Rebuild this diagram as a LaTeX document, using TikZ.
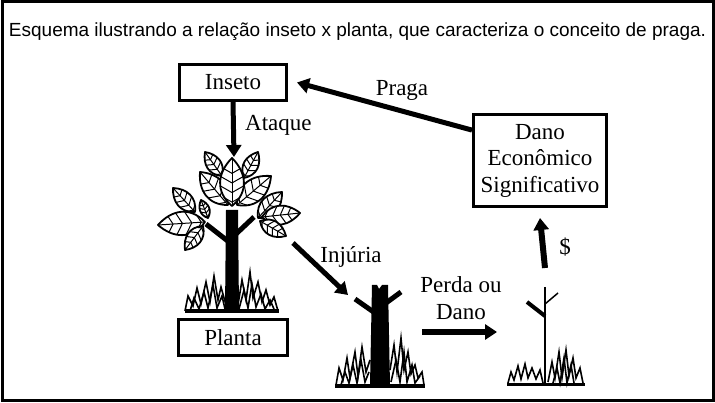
\documentclass[tikz,border=0pt]{standalone}
\usepackage{fontspec}
\setmainfont{Liberation Serif}
\newfontfamily\arialf{Liberation Sans}
\usetikzlibrary{arrows.meta,calc}
\tikzset{
  boxnode/.style={draw, line width=3pt, inner sep=0pt, align=center,
    font=\fontsize{23}{26.5}\selectfont},
  lbl/.style={inner sep=0pt, align=center, font=\fontsize{23}{26.5}\selectfont},
  bigarrow/.style={line width=5pt, -{Triangle[width=15pt,length=12pt]}},
  grassline/.style={line width=1.6pt, line join=miter, miter limit=20},
  leafpic/.pic={
    \path[fill=white] (0,0) .. controls (0.3,0.36) and (0.7,0.3) .. (1,0)
      .. controls (0.7,-0.3) and (0.3,-0.36) .. (0,0) -- cycle;
    \begin{scope}
      \clip (0,0) .. controls (0.3,0.36) and (0.7,0.3) .. (1,0)
        .. controls (0.7,-0.3) and (0.3,-0.36) .. (0,0) -- cycle;
      \foreach \t in {0.08,0.28,0.48,0.68}{
        \draw[line width=1pt] (\t,0) -- (\t+0.2,0.35);
        \draw[line width=1pt] (\t,0) -- (\t+0.2,-0.35);
      }
    \end{scope}
    \draw[line width=1pt] (0,0) -- (1,0);
    \draw[line width=1.8pt, line join=round] (0,0) .. controls (0.3,0.36) and (0.7,0.3) .. (1,0)
      .. controls (0.7,-0.3) and (0.3,-0.36) .. (0,0) -- cycle;
  }
}
\begin{document}
\begin{tikzpicture}[x=1pt,y=-1pt]
\useasboundingbox (0,0) rectangle (715,403);
\draw[line width=3pt] (2,2) rectangle (713,400);

% title
\node[inner sep=0pt, anchor=base, font=\arialf\fontsize{19}{22}\selectfont] (title) at (357.5,36.5)
  {Esquema ilustrando a relação inseto x planta, que caracteriza o conceito de praga.};

% boxes
\node[boxnode, minimum width=107pt, minimum height=36pt] (inseto) at (233,82.5) {Inseto};
\node[boxnode, minimum width=133pt, minimum height=92pt] (dano) at (540,160.5)
  {Dano\\Econômico\\Significativo};
\node[boxnode, minimum width=109pt, minimum height=36pt] (planta) at (233,337.5) {Planta};

% ---- tree 1 ----
\fill (226,210) -- (238,210) -- (239,311) -- (225,311) -- cycle;
\draw[line width=5pt] (229,242) -- (206,224);
\draw[line width=5pt] (236,234) -- (254,217);
\foreach \bx/\by/\tx/\ty in {
  195/212/173/188, 205/222/158/225, 208/218/201/200, 203/226/185/250,
  258/218/282/192, 262/217/300/213, 260/221/286/236,
  222/176/205/152, 244/178/258/152,
  228/205/200/172, 237/205/271/176, 232/206/232/158}{
  \pgfmathsetmacro\ang{atan2(\by-\ty,\tx-\bx)}
  \pgfmathsetmacro\len{veclen(\tx-\bx,\ty-\by)}
  \pic[shift={(\bx,\by)}, rotate=\ang, scale=\len] {leafpic};
}
\draw[grassline] (185,311) -- (188,296) -- (193,306) -- (197,288) -- (201,304) -- (206,282)
  -- (210,302) -- (214,276) -- (218,300) -- (221,287) -- (226,305);
\draw[grassline] (190,311) -- (194,298) -- (199,309) -- (204,292) -- (208,308) -- (213,285) -- (217,308) -- (222,296) -- (225,309);
\draw[grassline] (238,305) -- (242,280) -- (246,300) -- (250,272) -- (253,298) -- (258,282)
  -- (262,302) -- (266,290) -- (270,305) -- (274,297) -- (278,311);
\draw[grassline] (239,309) -- (244,290) -- (248,308) -- (252,284) -- (256,307) -- (261,294) -- (265,309) -- (270,300) -- (274,309);
\draw[line width=4pt] (185,311) -- (279,311);

% ---- tree 2 ----
\fill (372,285) -- (377,285) -- (379,289) -- (382,285) -- (388,285) -- (390,385) -- (370,385) -- cycle;
\draw[line width=5pt] (375,313) -- (355,299);
\draw[line width=5pt] (386,303) -- (401,292);
\draw[grassline] (336,385) -- (339,368) -- (343,380) -- (347,358) -- (350,378) -- (355,352)
  -- (358,376) -- (362,347) -- (366,372) -- (370,360);
\draw[grassline] (341,385) -- (345,372) -- (349,383) -- (353,365) -- (357,383) -- (361,360) -- (365,382) -- (369,372);
\draw[grassline] (390,370) -- (394,345) -- (397,372) -- (401,338) -- (404,370) -- (408,352)
  -- (411,374) -- (415,365) -- (418,378) -- (422,372) -- (424,385);
\draw[grassline] (391,382) -- (396,360) -- (400,382) -- (404,352) -- (407,382) -- (412,365) -- (415,383) -- (420,376);
\draw[line width=3.5pt] (335,386) -- (425,386);

% ---- plant 3 ----
\draw[line width=2pt] (545,287) -- (545,384);
\draw[line width=4pt] (545,316) -- (527,302);
\draw[line width=1.5pt] (545,304) -- (558,293);
\draw[grassline] (508,383) -- (511,372) -- (514,380) -- (518,366) -- (521,379) -- (525,364)
  -- (528,378) -- (532,368) -- (536,379) -- (540,370) -- (543,383);
\draw[grassline] (548,382) -- (552,362) -- (555,378) -- (559,352) -- (562,378) -- (566,350)
  -- (569,376) -- (573,358) -- (576,378) -- (580,368) -- (583,383);
\draw[grassline] (553,383) -- (557,368) -- (560,383) -- (564,358) -- (567,383) -- (571,365) -- (574,383);
\draw[line width=3pt] (507,384) -- (585,384);

% ---- arrows ----
\coordinate (treetop) at (234,157);
\coordinate (injA) at (293,243);
\coordinate (injB) at (348,295);
\coordinate (perdaA) at (422,332);
\coordinate (perdaB) at (497,332);
\coordinate (p3top) at (545,268);

\draw[bigarrow] (inseto.south) -- (treetop);
\draw[bigarrow] ($(dano.north west)!0.18!(dano.south west)$) -- ([xshift=9pt]inseto.east);
\draw[bigarrow] (injA) -- (injB);
\draw[bigarrow, line width=6pt] (perdaA) -- (perdaB);
\draw[bigarrow, line width=6pt] (p3top) -- ([yshift=-10pt]dano.south);

% ---- labels ----
\node[lbl, anchor=west] (ataque) at (245,125) {Ataque};
\node[lbl] (praga) at (402,90) {Praga};
\node[lbl] (dollar) at (565,247) {\$};
\node[lbl] (injuria) at (351,257) {Injúria};
\node[lbl] (perda) at (461,298) {Perda ou\\Dano};
\end{tikzpicture}
\end{document}
